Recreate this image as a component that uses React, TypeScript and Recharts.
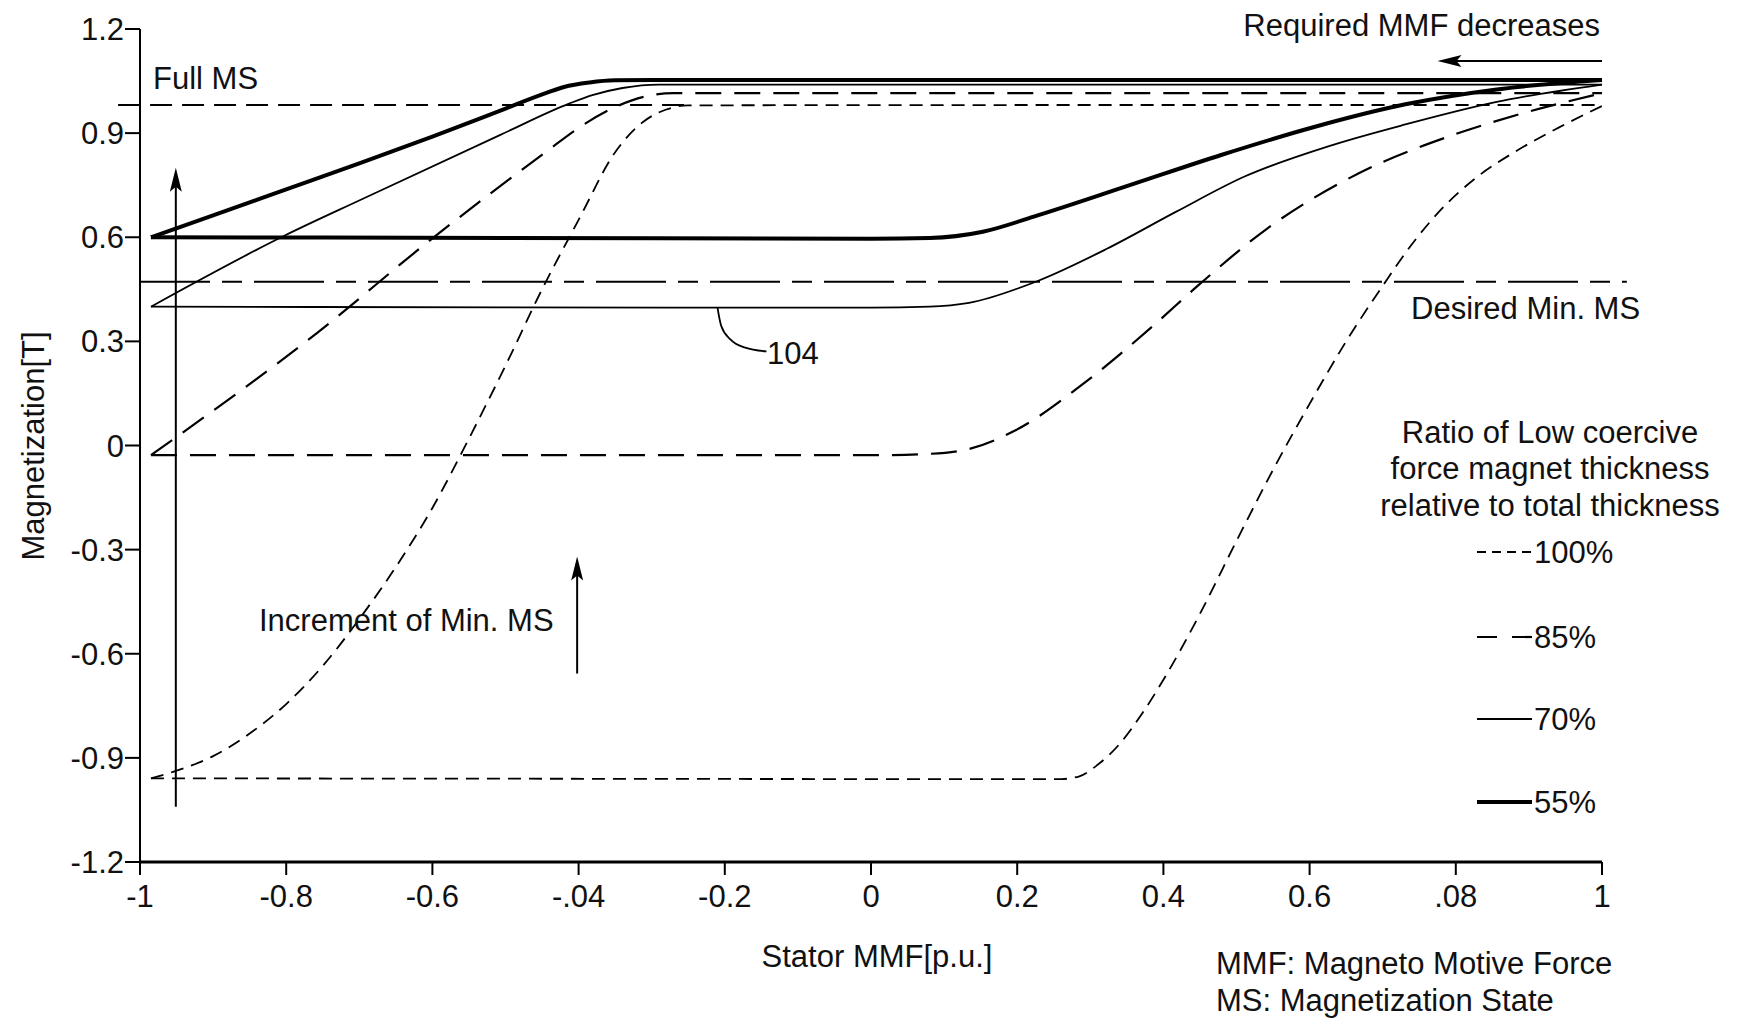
import React from 'react';
import {
  ComposedChart,
  Line,
  XAxis,
  YAxis,
  ReferenceLine,
  Scatter,
} from 'recharts';

// ---------- axis ticks ----------
const X_TICKS = [-1, -0.8, -0.6, -0.4, -0.2, 0, 0.2, 0.4, 0.6, 0.8, 1];
const X_TICK_LABELS = ['-1', '-0.8', '-0.6', '-.04', '-0.2', '0', '0.2', '0.4', '0.6', '.08', '1'];
const Y_TICKS = [-1.2, -0.9, -0.6, -0.3, 0, 0.3, 0.6, 0.9, 1.2];
const Y_TICK_LABELS = ['-1.2', '-0.9', '-0.6', '-0.3', '0', '0.3', '0.6', '0.9', '1.2'];

// ---------- series (x = Stator MMF [p.u.], y = Magnetization [T]) ----------
// 100% low coercive magnet ratio
const r100Upper: [number, number][] = [
  [-0.985, -0.959], [-0.95, -0.937], [-0.9, -0.895], [-0.85, -0.83], [-0.8, -0.745],
  [-0.75, -0.635], [-0.7, -0.5], [-0.65, -0.35], [-0.6, -0.18], [-0.55, 0.02],
  [-0.5, 0.23], [-0.45, 0.45], [-0.4, 0.65], [-0.35, 0.845], [-0.31, 0.935],
  [-0.28, 0.968], [-0.25, 0.98], [0.3, 0.981], [1.0, 0.981],
];
const r100Lower: [number, number][] = [
  [-0.985, -0.959], [-0.5, -0.96], [0, -0.961], [0.26, -0.961], [0.285, -0.953],
  [0.31, -0.92], [0.34, -0.86], [0.37, -0.775], [0.4, -0.675], [0.45, -0.485],
  [0.5, -0.275], [0.55, -0.07], [0.6, 0.12], [0.65, 0.3], [0.7, 0.46], [0.74, 0.58],
  [0.78, 0.68], [0.83, 0.775], [0.88, 0.845], [0.94, 0.915], [1.0, 0.978],
];
// 85%
const r85Upper: [number, number][] = [
  [-0.985, -0.028], [-0.947, 0.029], [-0.758, 0.324], [-0.607, 0.585], [-0.444, 0.847],
  [-0.4, 0.915], [-0.35, 0.975], [-0.31, 1.005], [-0.27, 1.015], [0.3, 1.015], [1.0, 1.015],
];
const r85Lower: [number, number][] = [
  [-0.985, -0.028], [-0.5, -0.028], [0, -0.028], [0.08, -0.024], [0.134, -0.01],
  [0.197, 0.043], [0.291, 0.179], [0.385, 0.343], [0.448, 0.462], [0.542, 0.625],
  [0.668, 0.785], [0.794, 0.893], [0.888, 0.955], [1.0, 1.015],
];
// 70%
const r70Upper: [number, number][] = [
  [-0.985, 0.4], [-0.802, 0.605], [-0.695, 0.711], [-0.507, 0.895], [-0.413, 0.985],
  [-0.38, 1.01], [-0.34, 1.03], [-0.29, 1.04], [0.3, 1.04], [1.0, 1.04],
];
const r70Lower: [number, number][] = [
  [-0.985, 0.4], [-0.5, 0.398], [0, 0.397], [0.08, 0.4], [0.134, 0.411], [0.228, 0.474],
  [0.322, 0.566], [0.417, 0.673], [0.511, 0.775], [0.63, 0.865], [0.731, 0.925],
  [0.856, 0.99], [1.0, 1.04],
];
// 55%
const r55Upper: [number, number][] = [
  [-0.985, 0.6], [-0.9, 0.663], [-0.8, 0.738], [-0.7, 0.813], [-0.6, 0.89],
  [-0.507, 0.965], [-0.445, 1.015], [-0.42, 1.033], [-0.385, 1.046], [-0.35, 1.052],
  [-0.3, 1.053], [0.3, 1.053], [1.0, 1.053],
];
const r55Lower: [number, number][] = [
  [-0.985, 0.6], [-0.5, 0.598], [0, 0.596], [0.08, 0.598], [0.153, 0.616], [0.228, 0.663],
  [0.354, 0.75], [0.479, 0.837], [0.605, 0.917], [0.731, 0.983], [0.856, 1.026],
  [1.0, 1.053],
];
// leader line to label "104"
const leader104: [number, number][] = [
  [-0.21, 0.397], [-0.205, 0.345], [-0.192, 0.305], [-0.172, 0.282], [-0.143, 0.271],
];

// reference levels
const FULL_MS = 0.981;
const DESIRED_MIN_MS = 0.472;

const pts = (a: [number, number][]) => a.map(([x, y]) => ({ x, y }));

const FONT = '"Liberation Sans", Arial, Helvetica, sans-serif';
const INK = '#111';

const STYLE = {
  r100: { dash: '13 8', w: 1.8 },
  r85: { dash: '26 13', w: 2.2 },
  r70: { w: 1.8 },
  r55: { w: 4 },
};

const upHead = (props: any) => {
  const { cx, cy } = props;
  return (
    <path
      d={`M${cx},${cy} L${cx - 6},${cy + 24} L${cx},${cy + 19} L${cx + 6},${cy + 24} Z`}
      fill="#000"
    />
  );
};
const leftHead = (props: any) => {
  const { cx, cy } = props;
  return (
    <path
      d={`M${cx},${cy} L${cx + 24},${cy - 6} L${cx + 19},${cy} L${cx + 24},${cy + 6} Z`}
      fill="#000"
    />
  );
};

const Txt: React.FC<{ x: number; y: number; align?: 'left' | 'center' | 'right'; size?: number; children: React.ReactNode }> = ({
  x,
  y,
  align = 'left',
  size = 31,
  children,
}) => {
  const tx = align === 'left' ? '0' : align === 'center' ? '-50%' : '-100%';
  return (
    <div
      style={{
        position: 'absolute',
        left: x,
        top: y,
        transform: `translate(${tx}, -50%)`,
        fontFamily: FONT,
        fontSize: size,
        lineHeight: 1,
        color: INK,
        whiteSpace: 'nowrap',
      }}
    >
      {children}
    </div>
  );
};

const legendItems = [
  { label: '100%', dash: '9 6', w: 1.8, y: 552 },
  { label: '85%', dash: '20 15', w: 2.2, y: 637 },
  { label: '70%', dash: undefined as string | undefined, w: 1.8, y: 719 },
  { label: '55%', dash: undefined as string | undefined, w: 4, y: 802 },
];

const fmtX = (v: number) => {
  const i = X_TICKS.findIndex((t) => Math.abs(t - v) < 1e-9);
  return i >= 0 ? X_TICK_LABELS[i] : String(v);
};
const fmtY = (v: number) => {
  const i = Y_TICKS.findIndex((t) => Math.abs(t - v) < 1e-9);
  return i >= 0 ? Y_TICK_LABELS[i] : String(v);
};

const tickStyle = { fontSize: 31, fill: INK, fontFamily: FONT };

export default function App() {
  const lineCommon = {
    type: 'monotone' as const,
    dataKey: 'y',
    stroke: '#000',
    dot: false,
    activeDot: false,
    isAnimationActive: false,
    strokeLinecap: 'butt' as const,
  };
  return (
    <div style={{ position: 'absolute', left: 0, top: 0, width: 1739, height: 1021, background: '#fff', overflow: 'hidden' }}>
      <ComposedChart width={1739} height={1021} margin={{ top: 29, right: 137, bottom: 99, left: 0 }}>
        <XAxis
          type="number"
          dataKey="x"
          domain={[-1, 1]}
          ticks={X_TICKS}
          tickFormatter={fmtX}
          height={60}
          tickSize={13}
          tickMargin={10}
          axisLine={{ stroke: '#000', strokeWidth: 3 }}
          tickLine={{ stroke: '#000', strokeWidth: 2 }}
          tick={tickStyle}
          interval={0}
        />
        <YAxis
          type="number"
          dataKey="y"
          domain={[-1.2, 1.2]}
          ticks={Y_TICKS}
          tickFormatter={fmtY}
          width={140}
          tickSize={15}
          tickMargin={1}
          axisLine={{ stroke: '#000', strokeWidth: 2 }}
          tickLine={{ stroke: '#000', strokeWidth: 2 }}
          tick={tickStyle}
          interval={0}
        />

        {/* reference levels */}
        <ReferenceLine
          segment={[{ x: -1.03, y: FULL_MS }, { x: -0.25, y: FULL_MS }]}
          stroke="#000"
          strokeWidth={2}
          strokeDasharray="22 10"
          ifOverflow="visible"
        />
        <ReferenceLine
          segment={[{ x: -1, y: DESIRED_MIN_MS }, { x: 1.034, y: DESIRED_MIN_MS }]}
          stroke="#000"
          strokeWidth={2}
          strokeDasharray="70 12 20 12"
          ifOverflow="visible"
        />

        {/* curves */}
        <Line {...lineCommon} data={pts(r100Upper)} strokeWidth={STYLE.r100.w} strokeDasharray={STYLE.r100.dash} />
        <Line {...lineCommon} data={pts(r100Lower)} strokeWidth={STYLE.r100.w} strokeDasharray={STYLE.r100.dash} />
        <Line {...lineCommon} data={pts(r85Upper)} strokeWidth={STYLE.r85.w} strokeDasharray={STYLE.r85.dash} />
        <Line {...lineCommon} data={pts(r85Lower)} strokeWidth={STYLE.r85.w} strokeDasharray={STYLE.r85.dash} />
        <Line {...lineCommon} data={pts(r70Upper)} strokeWidth={STYLE.r70.w} />
        <Line {...lineCommon} data={pts(r70Lower)} strokeWidth={STYLE.r70.w} />
        <Line {...lineCommon} data={pts(r55Upper)} strokeWidth={STYLE.r55.w} />
        <Line {...lineCommon} data={pts(r55Lower)} strokeWidth={STYLE.r55.w} />
        <Line {...lineCommon} data={pts(leader104)} strokeWidth={1.8} />

        {/* arrows */}
        <ReferenceLine
          segment={[{ x: -0.951, y: -1.041 }, { x: -0.951, y: 0.76 }]}
          stroke="#000"
          strokeWidth={2}
          ifOverflow="visible"
        />
        <ReferenceLine
          segment={[{ x: -0.402, y: -0.657 }, { x: -0.402, y: -0.36 }]}
          stroke="#000"
          strokeWidth={2}
          ifOverflow="visible"
        />
        <ReferenceLine
          segment={[{ x: 1.0, y: 1.108 }, { x: 0.8, y: 1.108 }]}
          stroke="#000"
          strokeWidth={2}
          ifOverflow="visible"
        />
        <Scatter data={[{ x: -0.951, y: 0.8 }]} dataKey="y" shape={upHead} isAnimationActive={false} />
        <Scatter data={[{ x: -0.402, y: -0.32 }]} dataKey="y" shape={upHead} isAnimationActive={false} />
        <Scatter data={[{ x: 0.775, y: 1.108 }]} dataKey="y" shape={leftHead} isAnimationActive={false} />
      </ComposedChart>

      {/* axis titles */}
      <div
        style={{
          position: 'absolute',
          left: 33,
          top: 446,
          transform: 'translate(-50%, -50%) rotate(-90deg)',
          fontFamily: FONT,
          fontSize: 31,
          lineHeight: 1,
          color: INK,
          whiteSpace: 'nowrap',
        }}
      >
        Magnetization[T]
      </div>
      <Txt x={877} y={956} align="center">Stator MMF[p.u.]</Txt>

      {/* annotations */}
      <Txt x={153} y={78}>Full MS</Txt>
      <Txt x={1600} y={25} align="right">Required MMF decreases</Txt>
      <Txt x={1411} y={308}>Desired Min. MS</Txt>
      <Txt x={259} y={620}>Increment of Min. MS</Txt>
      <Txt x={767} y={353}>104</Txt>

      {/* legend */}
      <Txt x={1550} y={432} align="center">Ratio of Low coercive</Txt>
      <Txt x={1550} y={468} align="center">force magnet thickness</Txt>
      <Txt x={1550} y={505} align="center">relative to total thickness</Txt>
      <svg style={{ position: 'absolute', left: 0, top: 0 }} width={1739} height={1021}>
        {legendItems.map((it) => (
          <line
            key={it.label}
            x1={1477}
            x2={1532}
            y1={it.y}
            y2={it.y}
            stroke="#000"
            strokeWidth={it.w}
            strokeDasharray={it.dash}
          />
        ))}
      </svg>
      {legendItems.map((it) => (
        <Txt key={it.label} x={1534} y={it.y}>
          {it.label}
        </Txt>
      ))}

      {/* notes */}
      <Txt x={1216} y={963}>MMF: Magneto Motive Force</Txt>
      <Txt x={1216} y={1000}>MS: Magnetization State</Txt>
    </div>
  );
}
